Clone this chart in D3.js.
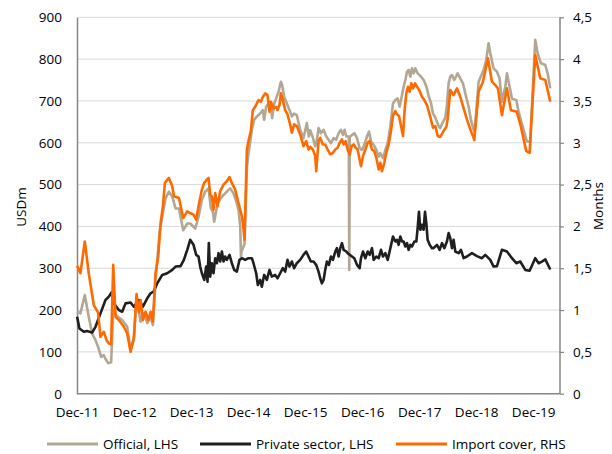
<!DOCTYPE html>
<html>
<head>
<meta charset="utf-8">
<script src="https://cdn.jsdelivr.net/npm/d3@7"></script>
<style>
  body { margin: 0; background: #fff; }
  svg text { font-family: "Open Sans", sans-serif; fill: #000; }
</style>
</head>
<body>
<div id="chart"></div>
<script>
// data: [decimal year, value]
const officialSeries = [
  [2011.917,196],[2011.975,192],[2012.052,236],[2012.121,184],[2012.18,144],[2012.239,128],
  [2012.285,112],[2012.338,88],[2012.385,92],[2012.414,83],[2012.461,73],[2012.513,75],
  [2012.549,200],[2012.59,188],[2012.706,176],[2012.794,160],[2012.853,104],[2012.911,128],
  [2012.958,232],[2013.028,172],[2013.087,193],[2013.145,169],[2013.204,184],[2013.244,164],
  [2013.291,272],[2013.361,384],[2013.408,423],[2013.467,467],[2013.525,483],[2013.584,471],
  [2013.642,443],[2013.701,443],[2013.777,391],[2013.847,407],[2013.899,407],[2013.987,395],
  [2014.045,423],[2014.104,463],[2014.162,483],[2014.221,491],[2014.262,443],[2014.297,435],
  [2014.32,411],[2014.379,455],[2014.455,471],[2014.542,483],[2014.601,491],[2014.659,479],
  [2014.718,455],[2014.747,439],[2014.777,400],[2014.79,328],[2014.8,340],[2014.835,352],
  [2014.852,358],[2014.894,540],[2014.922,575],[2014.94,591],[2014.981,631],[2015.022,655],
  [2015.069,663],[2015.127,670],[2015.174,678],[2015.197,655],[2015.232,686],[2015.273,694],
  [2015.314,686],[2015.338,659],[2015.373,694],[2015.408,706],[2015.449,722],[2015.49,746],
  [2015.513,738],[2015.548,710],[2015.595,694],[2015.642,678],[2015.683,663],[2015.723,670],
  [2015.77,666],[2015.829,631],[2015.887,611],[2015.946,647],[2015.981,615],[2016.005,630],
  [2016.052,612],[2016.093,591],[2016.122,607],[2016.151,635],[2016.192,623],[2016.239,631],
  [2016.286,615],[2016.327,607],[2016.368,599],[2016.414,611],[2016.461,607],[2016.502,623],
  [2016.543,631],[2016.578,619],[2016.607,631],[2016.637,615],[2016.672,615],[2016.681,615],
  [2016.689,296],[2016.697,615],[2016.707,615],[2016.742,619],[2016.777,623],[2016.824,611],
  [2016.87,587],[2016.911,583],[2016.952,595],[2016.999,615],[2017.034,627],[2017.069,603],
  [2017.116,595],[2017.163,583],[2017.204,567],[2017.233,575],[2017.28,563],[2017.321,583],
  [2017.362,599],[2017.409,639],[2017.455,694],[2017.496,702],[2017.537,706],[2017.572,686],
  [2017.613,714],[2017.642,734],[2017.672,750],[2017.701,770],[2017.73,774],[2017.759,758],
  [2017.789,778],[2017.818,766],[2017.847,778],[2017.888,766],[2017.935,760],[2017.993,750],
  [2018.04,735],[2018.081,712],[2018.122,695],[2018.157,670],[2018.198,660],[2018.256,640],
  [2018.285,635],[2018.315,645],[2018.373,660],[2018.402,690],[2018.431,742],[2018.461,758],
  [2018.49,762],[2018.531,750],[2018.59,766],[2018.636,754],[2018.683,742],[2018.724,718],
  [2018.783,686],[2018.823,655],[2018.87,631],[2018.888,627],[2018.958,746],[2019.046,774],
  [2019.092,798],[2019.133,838],[2019.163,814],[2019.221,778],[2019.28,770],[2019.326,754],
  [2019.367,698],[2019.426,734],[2019.455,766],[2019.502,734],[2019.543,706],[2019.619,702],
  [2019.66,674],[2019.747,631],[2019.806,603],[2019.864,603],[2019.952,846],[2019.993,814],
  [2020.052,790],[2020.128,786],[2020.169,766],[2020.215,730]
];

const privateSeries = [
  [2011.917,184],[2011.958,156],[2012.034,148],[2012.092,150],[2012.18,146],[2012.239,160],
  [2012.326,192],[2012.414,224],[2012.473,232],[2012.519,242],[2012.56,216],[2012.648,200],
  [2012.706,196],[2012.765,216],[2012.853,218],[2012.911,208],[2012.999,224],[2013.069,208],
  [2013.145,228],[2013.204,240],[2013.262,245],[2013.321,264],[2013.408,284],[2013.496,288],
  [2013.584,296],[2013.642,304],[2013.73,305],[2013.788,320],[2013.847,344],[2013.899,368],
  [2013.957,356],[2014.004,332],[2014.045,328],[2014.074,304],[2014.104,288],[2014.145,272],
  [2014.18,304],[2014.203,268],[2014.226,360],[2014.25,280],[2014.279,312],[2014.308,288],
  [2014.338,324],[2014.367,312],[2014.396,336],[2014.425,316],[2014.455,340],[2014.484,316],
  [2014.513,328],[2014.542,320],[2014.589,332],[2014.63,312],[2014.671,296],[2014.718,292],
  [2014.764,320],[2014.805,324],[2014.864,320],[2014.922,324],[2014.981,324],[2015.01,312],
  [2015.057,288],[2015.086,260],[2015.127,272],[2015.156,256],[2015.197,284],[2015.244,272],
  [2015.291,296],[2015.332,280],[2015.39,284],[2015.431,276],[2015.478,288],[2015.525,300],
  [2015.566,292],[2015.607,320],[2015.642,304],[2015.683,316],[2015.723,300],[2015.77,312],
  [2015.829,320],[2015.887,332],[2015.934,340],[2015.975,328],[2016.016,316],[2016.063,316],
  [2016.11,308],[2016.151,292],[2016.18,276],[2016.21,264],[2016.239,272],[2016.268,296],
  [2016.297,316],[2016.332,308],[2016.368,328],[2016.403,320],[2016.444,340],[2016.473,348],
  [2016.502,328],[2016.531,348],[2016.561,360],[2016.59,344],[2016.637,340],[2016.677,334],
  [2016.736,328],[2016.777,324],[2016.824,308],[2016.87,300],[2016.894,324],[2016.929,340],
  [2016.97,324],[2017.011,340],[2017.046,332],[2017.087,348],[2017.116,320],[2017.163,328],
  [2017.204,324],[2017.245,344],[2017.28,328],[2017.321,336],[2017.362,320],[2017.409,348],
  [2017.455,376],[2017.496,364],[2017.525,368],[2017.555,356],[2017.584,376],[2017.613,364],
  [2017.642,364],[2017.672,352],[2017.701,360],[2017.73,344],[2017.759,356],[2017.789,352],
  [2017.83,364],[2017.865,364],[2017.888,396],[2017.911,435],[2017.935,392],[2017.964,404],
  [2017.993,392],[2018.017,435],[2018.04,408],[2018.063,368],[2018.099,356],[2018.139,348],
  [2018.168,348],[2018.227,356],[2018.274,344],[2018.315,360],[2018.356,348],[2018.402,364],
  [2018.432,384],[2018.461,372],[2018.49,348],[2018.519,368],[2018.549,340],[2018.607,336],
  [2018.648,344],[2018.695,324],[2018.753,328],[2018.841,336],[2018.929,329],[2019.016,324],
  [2019.075,332],[2019.163,320],[2019.221,304],[2019.28,305],[2019.367,344],[2019.455,340],
  [2019.543,324],[2019.619,312],[2019.689,316],[2019.777,296],[2019.853,294],[2019.952,324],
  [2020.011,312],[2020.069,316],[2020.128,321],[2020.215,297]
];

// months of import cover (right axis)
const importCoverSeries = [
  [2011.917,1.53],[2011.975,1.44],[2012.052,1.82],[2012.121,1.44],[2012.209,1.06],[2012.285,0.97],
  [2012.326,0.68],[2012.385,0.74],[2012.432,0.64],[2012.473,0.60],[2012.513,0.59],[2012.549,1.54],
  [2012.59,0.92],[2012.648,0.88],[2012.736,0.80],[2012.794,0.72],[2012.853,0.50],[2012.911,0.68],
  [2012.958,1.19],[2012.999,0.97],[2013.028,1.12],[2013.069,0.88],[2013.116,0.98],[2013.163,0.88],
  [2013.204,0.98],[2013.244,0.86],[2013.291,1.44],[2013.338,1.64],[2013.379,2.04],[2013.42,2.24],
  [2013.455,2.52],[2013.525,2.58],[2013.584,2.48],[2013.613,2.36],[2013.701,2.34],[2013.777,2.10],
  [2013.847,2.18],[2013.899,2.16],[2013.957,2.14],[2014.004,2.08],[2014.045,2.24],[2014.104,2.44],
  [2014.145,2.52],[2014.191,2.56],[2014.221,2.58],[2014.25,2.38],[2014.279,2.36],[2014.308,2.20],
  [2014.338,2.40],[2014.379,2.24],[2014.425,2.42],[2014.484,2.50],[2014.542,2.54],[2014.589,2.59],
  [2014.63,2.52],[2014.688,2.44],[2014.747,2.28],[2014.806,2.12],[2014.83,2.00],[2014.852,1.84],
  [2014.894,2.92],[2014.922,3.02],[2014.963,3.14],[2014.998,3.39],[2015.039,3.43],[2015.069,3.47],
  [2015.098,3.51],[2015.139,3.49],[2015.174,3.55],[2015.215,3.59],[2015.256,3.57],[2015.291,3.37],
  [2015.314,3.49],[2015.361,3.41],[2015.408,3.43],[2015.431,3.39],[2015.466,3.45],[2015.49,3.59],
  [2015.525,3.51],[2015.566,3.39],[2015.607,3.34],[2015.653,3.22],[2015.683,3.12],[2015.723,3.22],
  [2015.77,3.20],[2015.829,3.10],[2015.887,2.96],[2015.934,3.02],[2015.975,2.92],[2016.005,2.95],
  [2016.052,2.92],[2016.093,2.84],[2016.11,2.66],[2016.151,3.02],[2016.18,3.06],[2016.227,2.98],
  [2016.268,2.98],[2016.309,2.92],[2016.356,2.86],[2016.403,2.88],[2016.444,2.92],[2016.485,2.94],
  [2016.52,3.00],[2016.561,3.04],[2016.59,2.98],[2016.625,3.02],[2016.66,2.92],[2016.695,2.86],
  [2016.73,2.96],[2016.765,2.98],[2016.8,2.94],[2016.835,2.92],[2016.87,2.80],[2016.894,2.72],
  [2016.929,2.84],[2016.97,2.92],[2017.011,3.00],[2017.046,3.02],[2017.087,2.92],[2017.128,2.90],
  [2017.163,2.82],[2017.204,2.68],[2017.233,2.76],[2017.262,2.66],[2017.303,2.76],[2017.338,2.88],
  [2017.379,2.98],[2017.42,3.14],[2017.455,3.32],[2017.496,3.38],[2017.525,3.34],[2017.561,3.32],
  [2017.596,3.20],[2017.631,3.08],[2017.66,3.40],[2017.689,3.59],[2017.718,3.67],[2017.748,3.61],
  [2017.777,3.71],[2017.806,3.65],[2017.841,3.71],[2017.876,3.67],[2017.923,3.62],[2017.964,3.55],
  [2018.005,3.51],[2018.052,3.45],[2018.11,3.31],[2018.157,3.18],[2018.198,3.20],[2018.239,3.08],
  [2018.285,3.07],[2018.343,3.14],[2018.391,3.19],[2018.414,3.28],[2018.461,3.63],
  [2018.519,3.57],[2018.578,3.65],[2018.636,3.55],[2018.695,3.41],[2018.753,3.28],[2018.812,3.16],
  [2018.87,3.06],[2018.882,3.03],[2018.958,3.61],[2019.034,3.73],[2019.122,4.01],[2019.192,3.73],
  [2019.25,3.69],[2019.297,3.65],[2019.367,3.33],[2019.455,3.65],[2019.525,3.39],[2019.63,3.37],
  [2019.701,3.19],[2019.794,2.90],[2019.853,2.88],[2019.952,4.05],[2020.04,3.77],[2020.128,3.75],
  [2020.215,3.49]
];

const leftTicks = [0, 100, 200, 300, 400, 500, 600, 700, 800, 900];
const rightTicks = [0, 0.5, 1, 1.5, 2, 2.5, 3, 3.5, 4, 4.5];
const xTickYears = [2011, 2012, 2013, 2014, 2015, 2016, 2017, 2018, 2019];
const legendItems = [
  { label: "Official, LHS", color: "#b1a793", x: 47 },
  { label: "Private sector, LHS", color: "#1f1f1f", x: 200 },
  { label: "Import cover, RHS", color: "#ff6a00", x: 396 }
];

const dim = {
  width: 612,
  height: 454,
  margin: { top: 17.3, right: 52, bottom: 60.3, left: 77 }
};
const innerW = dim.width - dim.margin.left - dim.margin.right;
const innerH = dim.height - dim.margin.top - dim.margin.bottom;

// decimal year -> Date
function decYear(t) {
  const y = Math.floor(t);
  const a = new Date(y, 0, 1), b = new Date(y + 1, 0, 1);
  return new Date(+a + (t - y) * (b - a));
}

const svg = d3.select("#chart")
  .append("svg")
    .attr("width", dim.width)
    .attr("height", dim.height);

const g = svg.append("g")
  .attr("transform", `translate(${dim.margin.left}, ${dim.margin.top})`);

// scales
const xScale = d3.scaleTime()
  .domain([new Date(2011, 11, 1), new Date(2020, 4, 21)])
  .range([0, innerW]);

const yLeft = d3.scaleLinear().domain([0, 900]).range([innerH, 0]);
const yRight = d3.scaleLinear().domain([0, 4.5]).range([innerH, 0]);

// gridlines
g.append("g")
  .selectAll("line")
  .data(leftTicks.slice(1))
  .join("line")
    .attr("x1", 0)
    .attr("x2", innerW)
    .attr("y1", d => yLeft(d))
    .attr("y2", d => yLeft(d))
    .attr("stroke", "#d9d9d9")
    .attr("stroke-width", 1);

// axes
const fmtComma = d => String(d).replace(".", ",");

const yAxisL = g.append("g")
  .call(d3.axisLeft(yLeft).tickValues(leftTicks).tickSize(0).tickPadding(15));

const yAxisR = g.append("g")
  .attr("transform", `translate(${innerW}, 0)`)
  .call(d3.axisRight(yRight).tickValues(rightTicks).tickFormat(fmtComma).tickSize(4).tickPadding(9));

const xAxis = g.append("g")
  .attr("transform", `translate(0, ${innerH})`)
  .call(d3.axisBottom(xScale)
    .tickValues(xTickYears.map(y => new Date(y, 11, 1)))
    .tickFormat(d3.timeFormat("%b-%y"))
    .tickSize(0)
    .tickPadding(14));

[yAxisL, yAxisR, xAxis].forEach(ax => {
  ax.select(".domain").attr("stroke", "#868686").attr("stroke-width", 1.5);
  ax.selectAll(".tick line").attr("stroke", "#868686").attr("stroke-width", 1.2);
  ax.selectAll("text").style("font-size", "13.5px").attr("fill", "#000");
});
yAxisR.select(".domain").attr("d", `M0,0H0V${innerH}H0`);
xAxis.select(".domain").attr("d", `M0,0H${innerW}`);

// lines
const lineL = d3.line()
  .x(d => xScale(decYear(d[0])))
  .y(d => yLeft(d[1]));

const lineR = d3.line()
  .x(d => xScale(decYear(d[0])))
  .y(d => yRight(d[1]));

g.append("path")
  .datum(officialSeries)
  .attr("d", lineL)
  .attr("fill", "none")
  .attr("stroke", legendItems[0].color)
  .attr("stroke-width", 2.6)
  .attr("stroke-linejoin", "round");

g.append("path")
  .datum(privateSeries)
  .attr("d", lineL)
  .attr("fill", "none")
  .attr("stroke", legendItems[1].color)
  .attr("stroke-width", 2.6)
  .attr("stroke-linejoin", "round");

g.append("path")
  .datum(importCoverSeries)
  .attr("d", lineR)
  .attr("fill", "none")
  .attr("stroke", legendItems[2].color)
  .attr("stroke-width", 2.6)
  .attr("stroke-linejoin", "round");

// axis titles
svg.append("text")
  .attr("transform", "translate(26, 207) rotate(-90)")
  .attr("text-anchor", "middle")
  .style("font-size", "13.5px")
  .text("USDm");

svg.append("text")
  .attr("transform", "translate(603, 206) rotate(-90)")
  .attr("text-anchor", "middle")
  .style("font-size", "13.5px")
  .text("Months");

// legend
const legend = svg.append("g")
  .selectAll("g")
  .data(legendItems)
  .join("g")
    .attr("transform", d => `translate(${d.x}, 444)`);

legend.append("line")
  .attr("x1", 0)
  .attr("x2", 51)
  .attr("stroke", d => d.color)
  .attr("stroke-width", 3);

legend.append("text")
  .attr("x", 56)
  .attr("dy", "0.35em")
  .style("font-size", "13.5px")
  .text(d => d.label);
</script>
</body>
</html>
